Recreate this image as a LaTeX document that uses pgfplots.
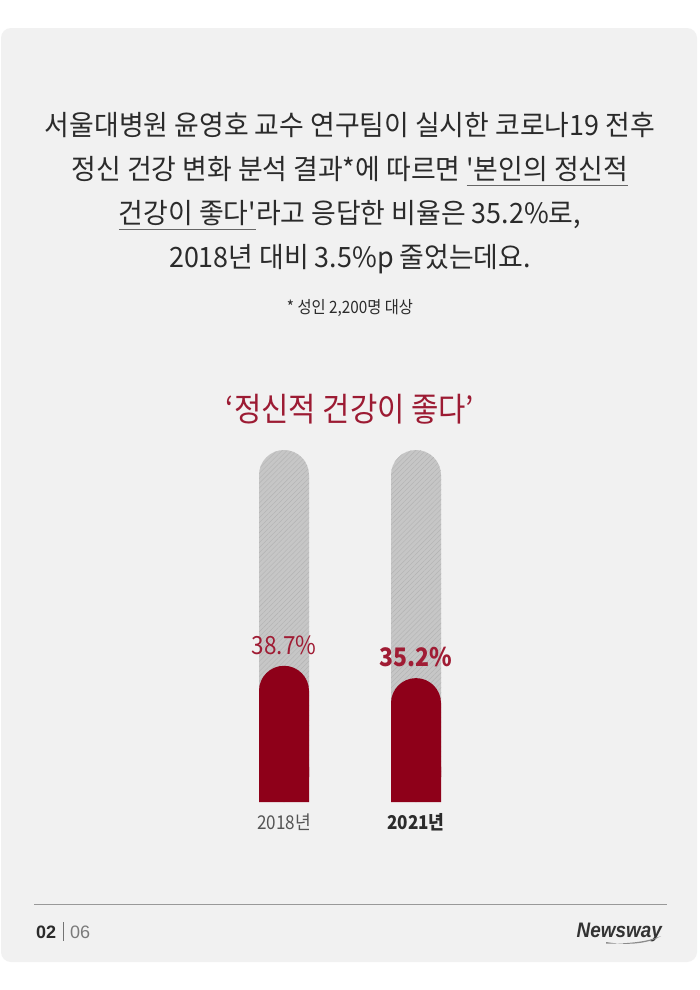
\documentclass[border=0pt]{standalone}
\usepackage{pgfplots}
\pgfplotsset{compat=1.18}
\usetikzlibrary{patterns.meta}
\usepackage{fontspec}
\setmainfont{Noto Sans CJK KR}[FakeStretch=0.9, Ligatures=TeXOff]
\newfontfamily\bodyfont{Noto Sans CJK KR}[FakeStretch=0.96, Ligatures=TeXOff]
\newfontfamily\logofont{Liberation Sans}[FakeStretch=0.9]
\newfontfamily\numfont{Liberation Sans}

\definecolor{cardbg}{HTML}{F1F1F1}
\definecolor{textdark}{HTML}{2B2B2B}
\definecolor{titlered}{HTML}{9C1B33}
\definecolor{barred}{HTML}{8E0019}
\definecolor{labelred}{HTML}{A01C34}
\definecolor{trackgray}{HTML}{C6C6C6}
\definecolor{hatch}{HTML}{B2B2B2}
\definecolor{ulgray}{HTML}{666666}
\definecolor{yrgray}{HTML}{555555}
\definecolor{pagegray}{HTML}{7A7A7A}
\definecolor{logogray}{HTML}{333333}

\newsavebox\ulbox
\newcommand\ul[1]{\sbox\ulbox{#1}\rlap{\color{ulgray}\raisebox{-7bp}{\rule{\wd\ulbox}{0.8bp}}}\usebox\ulbox}

\begin{document}
\begin{tikzpicture}
% page and card
\fill[white] (0,0) rectangle (700bp,-990bp);
\fill[cardbg, rounded corners=10bp] (1bp,-28bp) rectangle (697bp,-962bp);
\path[use as bounding box] (0,0) rectangle (700bp,-990bp);

% intro text
\begin{scope}[every node/.style={anchor=base, inner sep=0pt, text=textdark,
    font=\bodyfont\fontsize{28bp}{30bp}\selectfont}]
\node at (350bp,-135bp) {서울대병원 윤영호 교수 연구팀이 실시한 코로나19 전후};
\node at (350bp,-179bp) {정신 건강 변화 분석 결과*에 따르면 \ul{'본인의 정신적}};
\node at (350bp,-223bp) {\ul{건강이 좋다'}라고 응답한 비율은 35.2\%로,};
\node at (350bp,-267bp) {2018년 대비 3.5\%p 줄었는데요.};
\end{scope}
\node[anchor=base, inner sep=0pt, text=textdark, font=\fontsize{17bp}{19bp}\selectfont]
  at (350bp,-313bp) {* 성인 2,200명 대상};

% chart title
\node[anchor=base, inner sep=0pt, text=titlered, font=\fontsize{33bp}{35bp}\selectfont]
  at (350bp,-421bp) {‘정신적 건강이 좋다’};

\begin{axis}[
    at={(152bp,-802bp)}, anchor=south west,
    scale only axis, width=396bp, height=352bp,
    xmin=0, xmax=3, ymin=0, ymax=100,
    axis line style={draw=none},
    xtick={1,2},
    xticklabels={{\color{yrgray}2018년},{\bfseries\color{textdark}2021년}},
    major tick length=0pt,
    ytick=\empty,
    xticklabel style={anchor=base, inner sep=0pt, yshift=-27bp,
        font=\fontsize{19bp}{21bp}\selectfont},
    ybar, bar width=50bp, bar shift=0pt,
    clip=false
    ]
    % full track (100%)
    \addplot[fill=trackgray, draw=none, rounded corners=25bp] coordinates {(1,100) (2,100)};
    \addplot[draw=none, rounded corners=25bp,
        pattern={Lines[angle=45,distance=3.5bp,line width=0.4bp]}, pattern color=hatch]
        coordinates {(1,100) (2,100)};
    % values
    \addplot[fill=barred, draw=none, rounded corners=25bp,
        nodes near coords={\pgfmathprintnumber[fixed,fixed zerofill,precision=1,assume math mode=true]{\pgfplotspointmeta}\%},
        every node near coord/.append style={anchor=base, inner sep=0pt, yshift=11bp,
            text=labelred, font=\fontsize{25bp}{27bp}\selectfont}]
        coordinates {(1,38.7)};
    \addplot[fill=barred, draw=none, rounded corners=25bp,
        nodes near coords={\pgfmathprintnumber[fixed,fixed zerofill,precision=1,assume math mode=true]{\pgfplotspointmeta}\%},
        every node near coord/.append style={anchor=base, inner sep=0pt, yshift=12bp,
            text=labelred, font=\bfseries\fontsize{25.5bp}{27bp}\selectfont}]
        coordinates {(2,35.2)};
    % square off the bottom of the value bars
    \addplot[fill=barred, draw=none] coordinates {(1,10) (2,10)};
\end{axis}

% footer
\draw[black!40, line width=0.8bp] (34bp,-904bp) -- (667bp,-904bp);
\node[anchor=base west, inner sep=0pt, text=textdark, font=\numfont\bfseries\fontsize{18bp}{20bp}\selectfont]
  at (36bp,-938bp) {02};
\draw[black!55, line width=0.7bp] (63bp,-922bp) -- (63bp,-941bp);
\node[anchor=base west, inner sep=0pt, text=pagegray, font=\numfont\fontsize{18bp}{20bp}\selectfont]
  at (70bp,-938bp) {06};
\node[anchor=base east, inner sep=0pt, text=logogray, font=\logofont\bfseries\itshape\fontsize{21bp}{22bp}\selectfont]
  at (662bp,-937bp) {Newsway};
\fill[black!45] (606bp,-942bp) .. controls (630bp,-946bp) and (650bp,-943bp) .. (661bp,-936bp)
  .. controls (650bp,-941bp) and (630bp,-944bp) .. (606bp,-943.5bp) -- cycle;
\end{tikzpicture}
\end{document}
